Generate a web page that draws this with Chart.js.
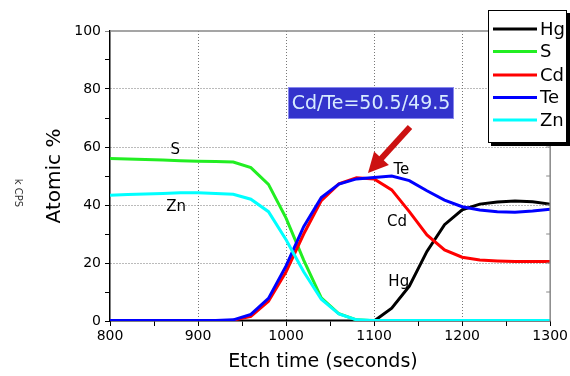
<!DOCTYPE html>
<html>
<head>
<meta charset="utf-8">
<script src="https://cdn.jsdelivr.net/npm/chart.js"></script>
<style>
  body { margin: 0; background: #fff; }
  canvas { display: block; }
</style>
</head>
<body>
<canvas id="chart" width="570" height="376"></canvas>
<script>
// etch time (s)
const times = [800, 820, 840, 860, 880, 900, 920, 940, 960, 980, 1000, 1020, 1040,
  1060, 1080, 1100, 1120, 1140, 1160, 1180, 1200, 1220, 1240, 1260, 1280, 1300];

// atomic % per element
const hg = [0, 0, 0, 0, 0, 0, 0, 0, 0, 0, 0, 0, 0, 0, 0, 0,
  4.4, 12, 24, 33.2, 38.3, 40.3, 41, 41.4, 41.1, 40.3];
const s = [56, 55.9, 55.7, 55.5, 55.3, 55.1, 55, 54.8, 52.9, 47.1, 35.5, 21, 8,
  2.5, 0.4, 0.1, 0.1, 0.1, 0.1, 0.1, 0.1, 0.1, 0.1, 0.1, 0.1, 0.1];
const cd = [0.1, 0.1, 0.1, 0.1, 0.1, 0.1, 0.1, 0.3, 1.6, 6.8, 17, 30, 41.5,
  47.3, 49.4, 49, 45.2, 37.7, 29.7, 24.5, 22, 21, 20.7, 20.5, 20.5, 20.5];
const te = [0.2, 0.2, 0.2, 0.2, 0.2, 0.2, 0.2, 0.4, 2.3, 7.8, 19, 32.5, 42.6,
  47.2, 49, 49.5, 50, 48.4, 44.9, 41.7, 39.4, 38.3, 37.7, 37.5, 37.9, 38.5];
const zn = [43.4, 43.6, 43.8, 44, 44.2, 44.2, 44, 43.7, 42, 37.7, 28, 17, 7.5,
  2.4, 0.4, 0.2, 0.2, 0.2, 0.2, 0.2, 0.2, 0.2, 0.2, 0.2, 0.2, 0.2];

const names = ["Hg", "S", "Cd", "Te", "Zn"];
const colors = ["#000000", "#22ee22", "#ff0000", "#0000ff", "#00ffff"];

// text labels placed next to the curves (data coordinates)
const curveLabels = [
  { text: "S", x: 874, y: 59 },
  { text: "Zn", x: 875, y: 39.3 },
  { text: "Te", x: 1131, y: 52 },
  { text: "Cd", x: 1126, y: 34 },
  { text: "Hg", x: 1128, y: 13.5 },
];
const ratioNote = "Cd/Te=50.5/49.5";

const FONT = "'DejaVu Sans', sans-serif";
const series = [hg, s, cd, te, zn];
const drawOrder = [4, 3, 2, 1, 0];

const datasets = series.map((vals, i) => ({
  label: names[i],
  data: times.map((t, j) => ({ x: t, y: vals[j] })),
  borderColor: colors[i],
  backgroundColor: colors[i],
  borderWidth: 3,
  pointRadius: 0,
  tension: 0,
  order: drawOrder[i],
}));

const extras = {
  id: "extras",
  afterDraw(chart) {
    const ctx = chart.ctx;
    const xs = chart.scales.x, ys = chart.scales.y;
    const a = chart.chartArea;
    ctx.save();

    // frame top/right
    ctx.strokeStyle = "#888";
    ctx.lineWidth = 1.5;
    ctx.beginPath();
    ctx.moveTo(a.left, a.top);
    ctx.lineTo(a.right, a.top);
    ctx.lineTo(a.right, a.bottom);
    ctx.stroke();
    // inner ticks on right side
    ctx.lineWidth = 1;
    for (let v = 10; v < 100; v += 10) {
      const py = ys.getPixelForValue(v);
      ctx.beginPath();
      ctx.moveTo(a.right, py);
      ctx.lineTo(a.right - 4, py);
      ctx.stroke();
    }

    // labels next to curves
    ctx.fillStyle = "#000";
    ctx.font = "15px " + FONT;
    ctx.textAlign = "center";
    ctx.textBaseline = "middle";
    curveLabels.forEach(l => {
      ctx.fillText(l.text, xs.getPixelForValue(l.x), ys.getPixelForValue(l.y));
    });

    // ratio box
    const bx = 288, by = 87, bw = 166, bh = 32;
    ctx.fillStyle = "#3333cc";
    ctx.fillRect(bx, by, bw, bh);
    ctx.strokeStyle = "#8888ee";
    ctx.strokeRect(bx + 0.5, by + 0.5, bw - 1, bh - 1);
    ctx.fillStyle = "#d8ecff";
    ctx.font = "19px " + FONT;
    ctx.fillText(ratioNote, bx + bw / 2, by + bh / 2 + 1);

    // arrow
    const tx = 368, ty = 173, fx = 410, fy = 127;
    const ang = Math.atan2(ty - fy, tx - fx);
    ctx.strokeStyle = "#cc1111";
    ctx.fillStyle = "#cc1111";
    ctx.lineWidth = 6;
    ctx.beginPath();
    ctx.moveTo(fx, fy);
    ctx.lineTo(tx - 14 * Math.cos(ang), ty - 14 * Math.sin(ang));
    ctx.stroke();
    ctx.beginPath();
    ctx.moveTo(tx, ty);
    ctx.lineTo(tx - 20 * Math.cos(ang) + 10 * Math.sin(ang), ty - 20 * Math.sin(ang) - 10 * Math.cos(ang));
    ctx.lineTo(tx - 20 * Math.cos(ang) - 10 * Math.sin(ang), ty - 20 * Math.sin(ang) + 10 * Math.cos(ang));
    ctx.closePath();
    ctx.fill();

    // legend box
    const lx = 488, ly = 10, lw = 79, lh = 133;
    ctx.fillStyle = "#000";
    ctx.fillRect(lx + 3, ly + 3, lw, lh);
    ctx.fillStyle = "#fff";
    ctx.fillRect(lx, ly, lw, lh);
    ctx.strokeStyle = "#000";
    ctx.lineWidth = 1;
    ctx.strokeRect(lx + 0.5, ly + 0.5, lw - 1, lh - 1);
    const rows = [29, 51.5, 75, 97.5, 120];
    ctx.font = "18px " + FONT;
    ctx.textAlign = "left";
    chart.data.datasets.forEach((d, i) => {
      ctx.strokeStyle = d.borderColor;
      ctx.lineWidth = 3;
      ctx.beginPath();
      ctx.moveTo(493, rows[i]);
      ctx.lineTo(537, rows[i]);
      ctx.stroke();
      ctx.fillStyle = "#000";
      ctx.fillText(d.label, 540, rows[i] + 1);
    });

    // axis titles
    ctx.fillStyle = "#000";
    ctx.textAlign = "center";
    ctx.font = "19px " + FONT;
    ctx.fillText("Etch time (seconds)", 323, 362);
    ctx.save();
    ctx.translate(55, 176);
    ctx.rotate(-Math.PI / 2);
    ctx.font = "20px " + FONT;
    ctx.fillText("Atomic %", 0, 0);
    ctx.restore();
    ctx.save();
    ctx.translate(18, 193);
    ctx.rotate(Math.PI / 2);
    ctx.font = "10px " + FONT;
    ctx.fillStyle = "#333";
    ctx.fillText("k CPS", 0, 0);
    ctx.restore();

    ctx.restore();
  },
};

new Chart(document.getElementById("chart"), {
  type: "line",
  data: { datasets },
  options: {
    responsive: false,
    animation: false,
    devicePixelRatio: 1,
    layout: { padding: { top: 31, right: 18, left: 0, bottom: 0 } },
    plugins: { legend: { display: false }, tooltip: { enabled: false } },
    scales: {
      x: {
        type: "linear",
        min: 800,
        max: 1300,
        afterFit: sc => { sc.height = 55; },
        afterBuildTicks: sc => {
          const t = [];
          for (let v = 800; v <= 1300; v += 50) t.push({ value: v });
          sc.ticks = t;
        },
        ticks: {
          autoSkip: false,
          maxRotation: 0,
          color: "#000",
          font: { family: FONT, size: 14 },
          padding: 2,
          callback: v => (v % 100 === 0 ? v : ""),
        },
        grid: {
          color: c => (c.tick && c.tick.value % 100 === 0 && c.tick.value > 800 && c.tick.value < 1300 ? "#777" : "rgba(0,0,0,0)"),
          tickColor: "#000",
          tickLength: 5,
          lineWidth: 1,
        },
        border: { color: "#000", width: 1.5, dash: [1, 2] },
      },
      y: {
        min: 0,
        max: 100,
        afterFit: sc => { sc.width = 110; },
        ticks: {
          stepSize: 10,
          autoSkip: false,
          color: "#000",
          font: { family: FONT, size: 14 },
          padding: 4,
          callback: v => (v % 20 === 0 ? v : ""),
        },
        grid: {
          color: c => (c.tick && c.tick.value % 20 === 0 && c.tick.value > 0 && c.tick.value < 100 ? "#777" : "rgba(0,0,0,0)"),
          tickColor: c => (c.tick && c.tick.value === 100 ? "#888" : "#000"),
          tickLength: 5,
          lineWidth: 1,
        },
        border: { color: "#000", width: 1.5, dash: [1, 2] },
      },
    },
  },
  plugins: [extras],
});
</script>
</body>
</html>
